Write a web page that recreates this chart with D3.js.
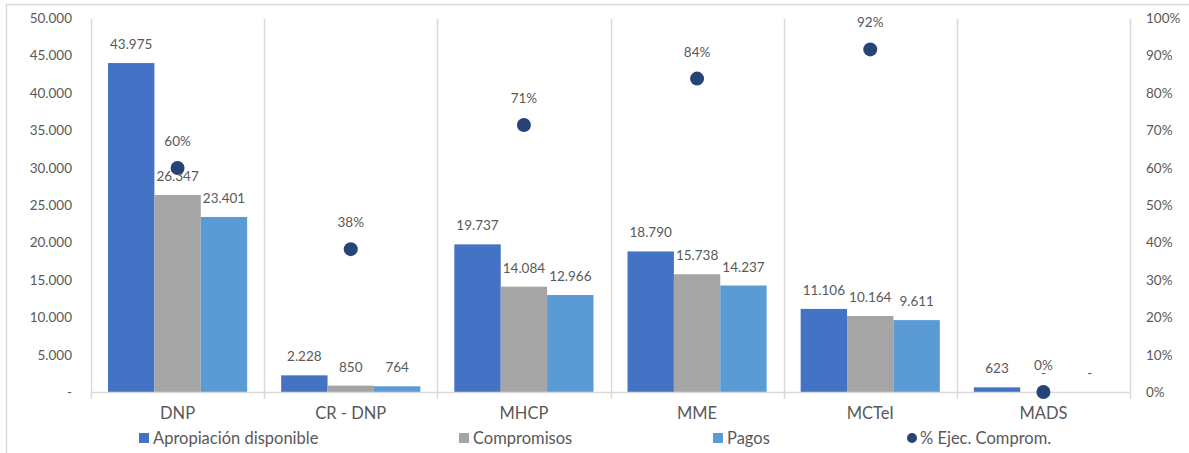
<!DOCTYPE html>
<html><head><meta charset="utf-8">
<script src="https://cdn.jsdelivr.net/npm/d3@7"></script>
<style>body{margin:0;background:#fff}svg{display:block}text{font-family:Lato,"Open Sans",sans-serif;fill:#595959}</style>
</head><body><svg id="c" width="1189" height="453"></svg>
<script>
const categories = ["DNP","CR - DNP","MHCP","MME","MCTeI","MADS"];
const seriesNames = ["Apropiación disponible","Compromisos","Pagos"];
const apropiacion = [43975, 2228, 19737, 18790, 11106, 623];
const compromisos = [26347, 850, 14084, 15738, 10164, 0];
const pagos = [23401, 764, 12966, 14237, 9611, 0];
const ejecucion = [0.599, 0.382, 0.714, 0.838, 0.916, 0];
const leftTicks = [0,5000,10000,15000,20000,25000,30000,35000,40000,45000,50000];
const rightTicks = [0,0.1,0.2,0.3,0.4,0.5,0.6,0.7,0.8,0.9,1];
const colors = ["#4472C4","#A5A5A5","#5B9BD5"];
const dotColor = "#264478";
const seriesValues = [apropiacion, compromisos, pagos];

const svg = d3.select("#c");
const L = 91, R = 1130, T = 18, B = 392;
const grid = "#D9D9D9";

// frame
svg.append("line").attr("x1",6).attr("x2",1189).attr("y1",4.5).attr("y2",4.5).attr("stroke",grid).attr("stroke-width",1.5);
svg.append("line").attr("x1",6.5).attr("x2",6.5).attr("y1",4).attr("y2",453).attr("stroke",grid).attr("stroke-width",1.5);

const x = d3.scaleBand().domain(categories).range([L,R]);
const xi = d3.scaleBand().domain(seriesNames).range([17, x.bandwidth()-17]);
const y = d3.scaleLinear().domain([0,50000]).range([B,T]);
const y2 = d3.scaleLinear().domain([0,1]).range([B,T]);

const fmt = v => v === 0 ? "-" : d3.format(",")(v).replace(/,/g,".");

// category separators
const seps = categories.map((c,i)=>x(c)).concat([R]);
svg.selectAll("line.sep").data(seps).join("line")
  .attr("x1",d=>Math.round(d)+0.5).attr("x2",d=>Math.round(d)+0.5)
  .attr("y1",T+1).attr("y2",B+7).attr("stroke",grid).attr("stroke-width",1.5);

// bars
const g = svg.append("g");
categories.forEach((c,ci)=>{
  seriesNames.forEach((s,si)=>{
    const v = seriesValues[si][ci];
    const bx = x(c)+xi(s);
    g.append("rect").attr("x",bx).attr("width",xi.bandwidth())
      .attr("y",y(v)).attr("height",B-y(v)).attr("fill",colors[si]);
    g.append("text").attr("x",bx+xi.bandwidth()/2).attr("y",y(v)-14)
      .attr("text-anchor","middle").attr("font-size",13.5).text(fmt(v));
  });
});

// axis line
svg.append("line").attr("x1",L).attr("x2",R).attr("y1",B+0.5).attr("y2",B+0.5).attr("stroke",grid).attr("stroke-width",1.5);

// dots
categories.forEach((c,ci)=>{
  const cx = x(c)+x.bandwidth()/2;
  svg.append("circle").attr("cx",cx).attr("cy",y2(ejecucion[ci])).attr("r",7).attr("fill",dotColor);
  svg.append("text").attr("x",cx).attr("y",y2(ejecucion[ci])-22).attr("text-anchor","middle")
    .attr("font-size",13.5).text(d3.format(".0%")(ejecucion[ci]));
});

// left axis
svg.selectAll("text.yl").data(leftTicks).join("text")
  .attr("x",72).attr("y",d=>y(d)+5).attr("text-anchor","end").attr("font-size",13.5)
  .text(d=>d===0?"-":fmt(d));
// right axis
svg.selectAll("text.yr").data(rightTicks).join("text")
  .attr("x",1146).attr("y",d=>y2(d)+5).attr("text-anchor","start").attr("font-size",13.5)
  .text(d=>d3.format(".0%")(d));

// category labels
svg.selectAll("text.cat").data(categories).join("text")
  .attr("x",d=>x(d)+x.bandwidth()/2).attr("y",419).attr("text-anchor","middle").attr("font-size",16.5)
  .text(d=>d);

// legend
const legX = [139, 459, 713];
seriesNames.forEach((s,i)=>{
  svg.append("rect").attr("x",legX[i]).attr("y",433).attr("width",10).attr("height",10).attr("fill",colors[i]);
  svg.append("text").attr("x",legX[i]+14).attr("y",444).attr("font-size",16.5).text(s);
});
svg.append("circle").attr("cx",912).attr("cy",438).attr("r",5).attr("fill",dotColor);
svg.append("text").attr("x",920).attr("y",444).attr("font-size",16.5).text("% Ejec. Comprom.");
</script></body></html>
